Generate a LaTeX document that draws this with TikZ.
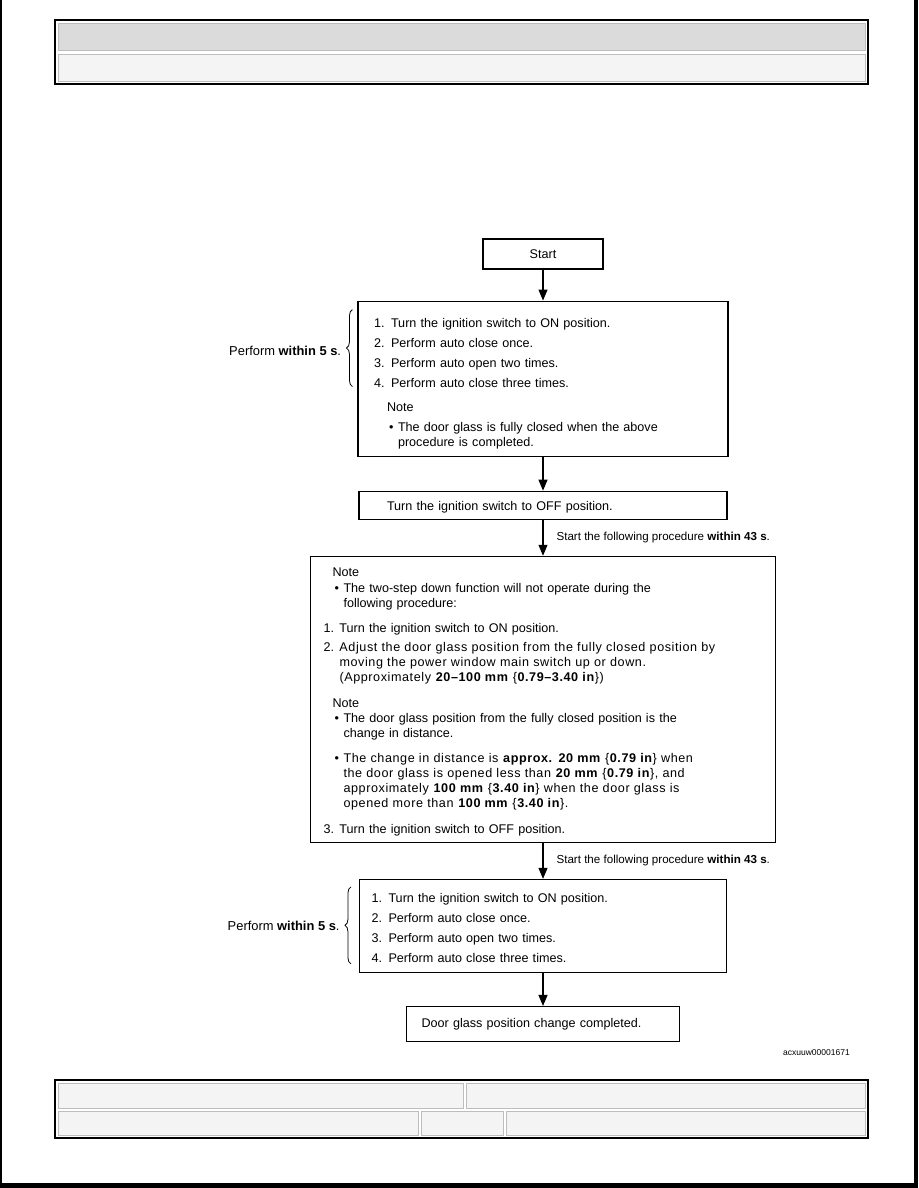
\documentclass[tikz,border=0pt]{standalone}
\usepackage{fontspec}
\setmainfont{Liberation Sans}
\newfontfamily\spacedfont[LetterSpace=4.6]{Liberation Sans}
\usetikzlibrary{arrows.meta,positioning,calc,decorations.pathreplacing}

\definecolor{hdrgray}{HTML}{DBDBDB}
\definecolor{cellgray}{HTML}{F4F4F4}
\definecolor{cellline}{HTML}{BDBDBD}

\newcommand{\stepnum}[2][17pt]{\makebox[#1][l]{#2}}
\newcommand{\bulletmark}{\makebox[9pt][l]{\textbullet}}
\newcommand{\topstrut}[1]{\rule{0pt}{#1}}

\begin{document}
\begin{tikzpicture}[
  x=1pt, y=-1pt,
  node distance=32pt,
  font=\fontsize{12.6}{15}\selectfont,
  box/.style={draw, line width=1.1pt, align=left, inner ysep=0pt},
  arr/.style={-{Triangle[width=9pt,length=11pt]}, line width=1.1pt},
  lbl/.style={inner sep=0pt},
  brc/.style={decorate, decoration={brace, amplitude=6pt}, line width=0.8pt}
]
\useasboundingbox (0,0) rectangle (918,1188);

% page edges
\fill[black] (0,0) rectangle (1.5,1188);
\fill[black] (914,0) rectangle (918,1188);
\fill[black] (0,1183) rectangle (918,1188);

% header table
\draw[line width=1.2pt, fill=white] (55,20) rectangle (868,84);
\draw[cellline, fill=hdrgray] (58,23) rectangle (865,50);
\draw[cellline, fill=cellgray] (58,54) rectangle (865,81);

% footer table
\draw[line width=1.2pt, fill=white] (55,1080) rectangle (868,1138);
\draw[cellline, fill=cellgray] (58,1083) rectangle (463,1108);
\draw[cellline, fill=cellgray] (466,1083) rectangle (865,1108);
\draw[cellline, fill=cellgray] (58,1111) rectangle (418,1135);
\draw[cellline, fill=cellgray] (421,1111) rectangle (503,1135);
\draw[cellline, fill=cellgray] (506,1111) rectangle (865,1135);

% flow
\node[box, align=center, text width=96pt, inner xsep=12pt, minimum height=30pt] (start) at (543,254) {Start};
\node[box, below=31pt of start, text width=338pt, inner xsep=16pt, minimum height=155pt] (auto1) {%
\topstrut{19pt}\stepnum{1.}Turn the ignition switch to ON position.\\[5pt]
\stepnum{2.}Perform auto close once.\\[5pt]
\stepnum{3.}Perform auto open two times.\\[5pt]
\stepnum{4.}Perform auto close three times.\\[9pt]
\hspace*{13pt}Note\\[5pt]
\hspace*{15pt}\bulletmark The door glass is fully closed when the above\\
\hspace*{24pt}procedure is completed.};
\node[box, below=34pt of auto1, text width=312pt, inner xsep=28pt, minimum height=28pt] (off1) {\topstrut{13pt}Turn the ignition switch to OFF position.};
\node[box, below=36pt of off1, text width=439pt, inner xsep=13pt, minimum height=286pt] (adjust) {%
\topstrut{14pt}\hspace*{9pt}Note\\[1pt]
\hspace*{11pt}\bulletmark The two-step down function will not operate during the\\
\hspace*{20pt}following procedure:\\[10pt]
\stepnum[16pt]{1.}Turn the ignition switch to ON position.\\[4pt]
\stepnum[16pt]{2.}{\spacedfont Adjust the door glass position from the fully closed position by}\\
\hspace*{16pt}{\spacedfont moving the power window main switch up or down.}\\
\hspace*{16pt}{\spacedfont (Approximately \textbf{20\textendash 100 mm} \{\textbf{0.79\textendash 3.40 in}\})}\\[11pt]
\hspace*{9pt}Note\\
\hspace*{11pt}\bulletmark The door glass position from the fully closed position is the\\
\hspace*{20pt}change in distance.\\[10pt]
\hspace*{11pt}\bulletmark{\spacedfont The change in distance is \textbf{approx. 20 mm} \{\textbf{0.79 in}\} when}\\
\hspace*{20pt}{\spacedfont the door glass is opened less than \textbf{20 mm} \{\textbf{0.79 in}\}, and}\\
\hspace*{20pt}{\spacedfont approximately \textbf{100 mm} \{\textbf{3.40 in}\} when the door glass is}\\
\hspace*{20pt}{\spacedfont opened more than \textbf{100 mm} \{\textbf{3.40 in}\}.}\\[11pt]
\stepnum[16pt]{3.}Turn the ignition switch to OFF position.};
\node[box, below=36pt of adjust, text width=343pt, inner xsep=12pt, minimum height=93pt] (auto2) {%
\topstrut{14pt}\stepnum{1.}Turn the ignition switch to ON position.\\[5pt]
\stepnum{2.}Perform auto close once.\\[5pt]
\stepnum{3.}Perform auto open two times.\\[5pt]
\stepnum{4.}Perform auto close three times.};
\node[box, below=33pt of auto2, text width=243pt, inner xsep=15pt, minimum height=35pt] (done) {Door glass position change completed.};
\node[lbl, font=\fontsize{8.5}{10}\selectfont, anchor=east] (imgid) at (850,1053) {acxuuw00001671};

\draw[arr] (start) -- (auto1);
\draw[arr] (auto1) -- (off1);
\draw[arr] (off1) -- node[lbl, right=13pt, font=\fontsize{11.6}{14}\selectfont] {Start the following procedure \textbf{within 43 s}.} (adjust);
\draw[arr] (adjust) -- node[lbl, right=13pt, font=\fontsize{11.6}{14}\selectfont] {Start the following procedure \textbf{within 43 s}.} (auto2);
\draw[arr] (auto2) -- (done);

% braces
\draw[brc] ($(auto1.north west)+(-5,86)$) -- node[lbl, left=11pt, yshift=-3pt, font=\fontsize{12.9}{15}\selectfont] {Perform \textbf{within 5 s}.} ($(auto1.north west)+(-5,9)$);
\draw[brc] ($(auto2.north west)+(-8,85)$) -- node[lbl, left=11pt, yshift=-1pt, font=\fontsize{12.9}{15}\selectfont] {Perform \textbf{within 5 s}.} ($(auto2.north west)+(-8,8)$);
\end{tikzpicture}
\end{document}
